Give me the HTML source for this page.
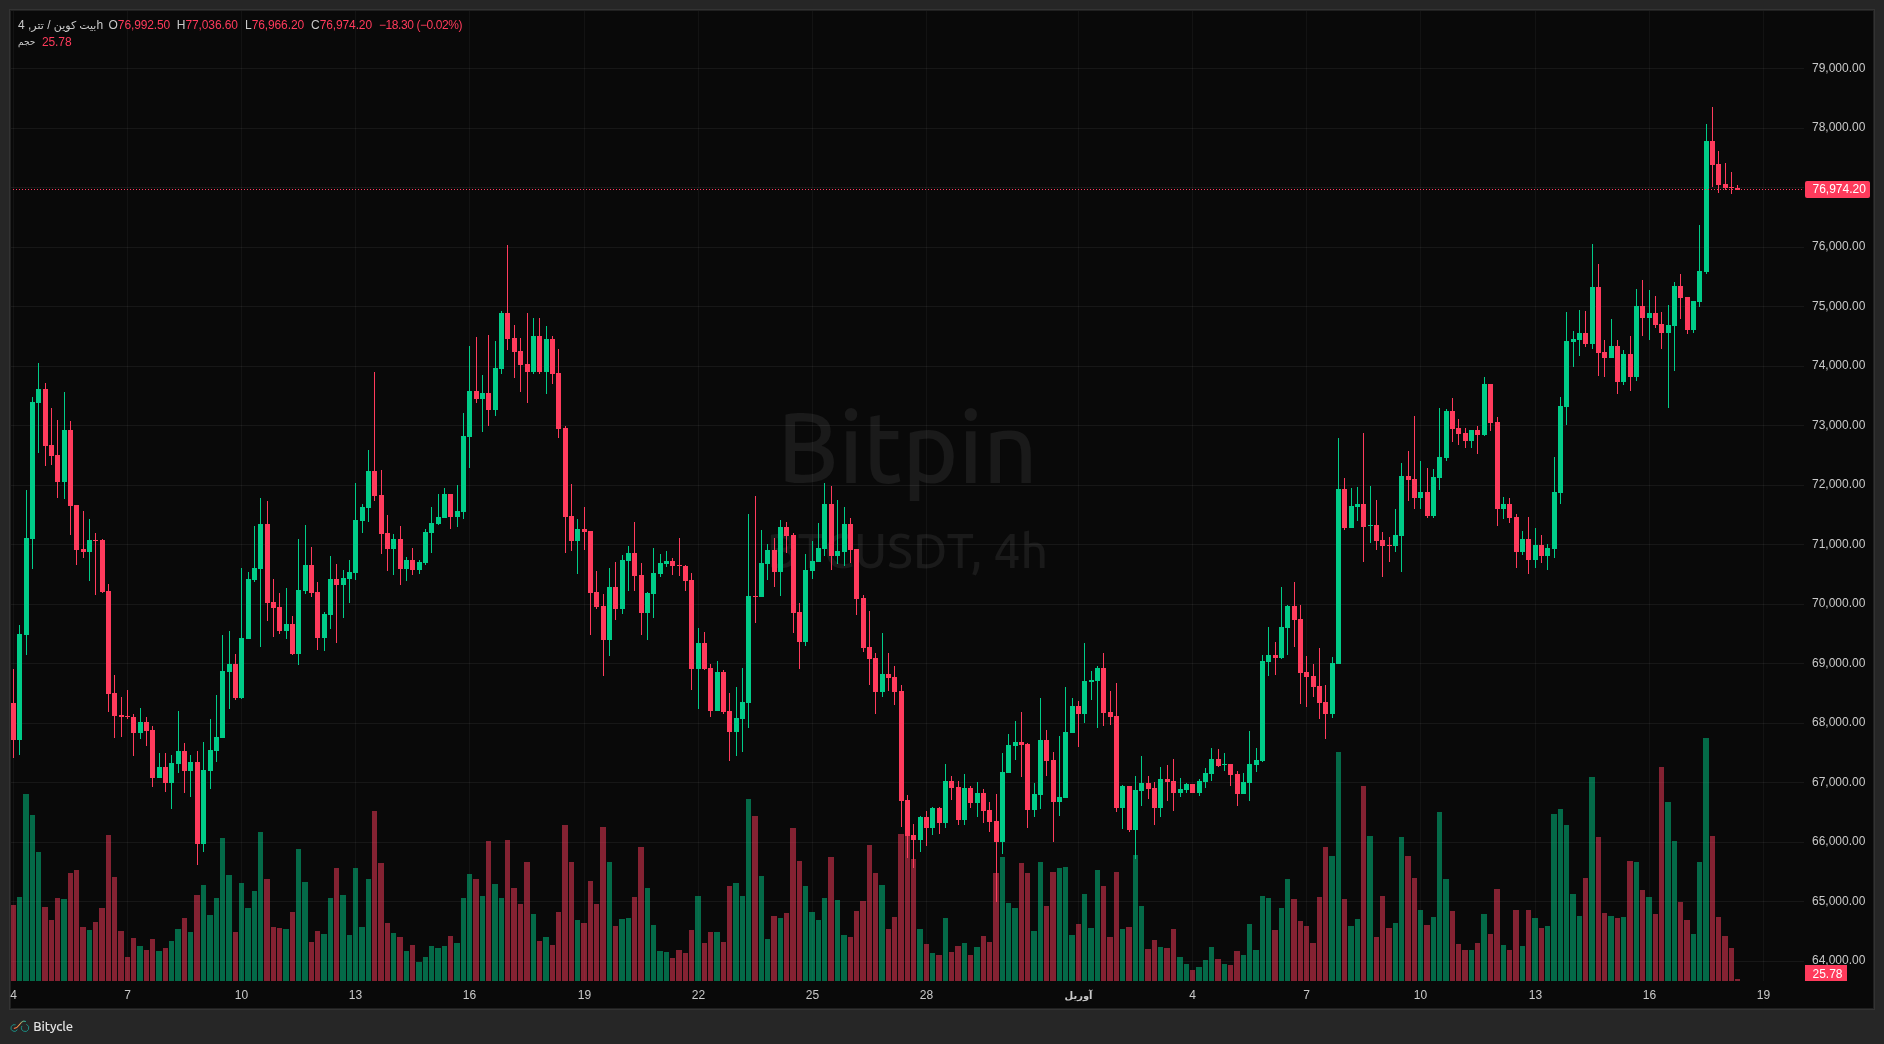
<!DOCTYPE html>
<html lang="en"><head><meta charset="utf-8"><title>Bitpin BTCUSDT 4h</title>
<style>
html,body{margin:0;padding:0;background:#262626;}
#txt{position:absolute;left:0;top:0;width:1884px;height:1044px;transform:translateZ(0);will-change:transform;}
body{width:1884px;height:1044px;position:relative;overflow:hidden;font-family:"Liberation Sans","DejaVu Sans",sans-serif;font-size:12px;color:#c9c9c9;}
#panel{position:absolute;left:9px;top:9px;width:1864px;height:999px;border:1px solid #333;background:#090909;box-shadow:inset 0 0 0 1px #202020;}
svg{position:absolute;left:0;top:0;}
.wm{font-family:Ubuntu,"Liberation Sans","DejaVu Sans",sans-serif;position:absolute;left:11px;width:1793px;text-align:center;color:#1a1a1a;white-space:nowrap;}
#wm1{top:386px;font-size:100px;line-height:120px;font-weight:460;transform:scaleX(0.951);}
#wm2{top:520px;font-size:49px;line-height:60px;font-weight:470;transform:scaleX(0.977);}
.pl{position:absolute;left:1812px;width:60px;height:14px;line-height:14px;white-space:nowrap;}
.tl{position:absolute;top:988px;width:60px;height:14px;line-height:14px;text-align:center;white-space:nowrap;}
.tl b{font-weight:bold;font-size:10px;}
.ar{font-size:11px;}
.lg{position:absolute;white-space:nowrap;height:14px;line-height:14px;}
.red{color:#ff3b5c;letter-spacing:-0.12px;}
.tag{position:absolute;background:#ff3b5c;color:#fff;border-radius:2px;white-space:nowrap;}
#brand{font-family:Ubuntu,"Liberation Sans","DejaVu Sans",sans-serif;position:absolute;left:33.2px;top:1017px;font-size:13px;line-height:18px;font-weight:520;color:#e2e2e2;letter-spacing:-0.15px;}
</style></head><body>
<div id="panel"></div>
<div class="wm" id="wm1">Bitpin</div>
<div class="wm" id="wm2">BTCUSDT, 4h</div>
<svg width="1884" height="1044" viewBox="0 0 1884 1044" shape-rendering="crispEdges">
<rect x="11" y="68" width="1793" height="1" fill="rgba(255,255,255,0.057)"/>
<rect x="11" y="128" width="1793" height="1" fill="rgba(255,255,255,0.057)"/>
<rect x="11" y="187" width="1793" height="1" fill="rgba(255,255,255,0.057)"/>
<rect x="11" y="247" width="1793" height="1" fill="rgba(255,255,255,0.057)"/>
<rect x="11" y="306" width="1793" height="1" fill="rgba(255,255,255,0.057)"/>
<rect x="11" y="366" width="1793" height="1" fill="rgba(255,255,255,0.057)"/>
<rect x="11" y="425" width="1793" height="1" fill="rgba(255,255,255,0.057)"/>
<rect x="11" y="485" width="1793" height="1" fill="rgba(255,255,255,0.057)"/>
<rect x="11" y="544" width="1793" height="1" fill="rgba(255,255,255,0.057)"/>
<rect x="11" y="604" width="1793" height="1" fill="rgba(255,255,255,0.057)"/>
<rect x="11" y="663" width="1793" height="1" fill="rgba(255,255,255,0.057)"/>
<rect x="11" y="723" width="1793" height="1" fill="rgba(255,255,255,0.057)"/>
<rect x="11" y="782" width="1793" height="1" fill="rgba(255,255,255,0.057)"/>
<rect x="11" y="842" width="1793" height="1" fill="rgba(255,255,255,0.057)"/>
<rect x="11" y="901" width="1793" height="1" fill="rgba(255,255,255,0.057)"/>
<rect x="11" y="961" width="1793" height="1" fill="rgba(255,255,255,0.057)"/>
<rect x="13" y="11" width="1" height="970" fill="rgba(255,255,255,0.043)"/>
<rect x="127" y="11" width="1" height="970" fill="rgba(255,255,255,0.043)"/>
<rect x="241" y="11" width="1" height="970" fill="rgba(255,255,255,0.043)"/>
<rect x="355" y="11" width="1" height="970" fill="rgba(255,255,255,0.043)"/>
<rect x="469" y="11" width="1" height="970" fill="rgba(255,255,255,0.043)"/>
<rect x="584" y="11" width="1" height="970" fill="rgba(255,255,255,0.043)"/>
<rect x="698" y="11" width="1" height="970" fill="rgba(255,255,255,0.043)"/>
<rect x="812" y="11" width="1" height="970" fill="rgba(255,255,255,0.043)"/>
<rect x="926" y="11" width="1" height="970" fill="rgba(255,255,255,0.043)"/>
<rect x="1078" y="11" width="1" height="970" fill="rgba(255,255,255,0.043)"/>
<rect x="1192" y="11" width="1" height="970" fill="rgba(255,255,255,0.043)"/>
<rect x="1306" y="11" width="1" height="970" fill="rgba(255,255,255,0.043)"/>
<rect x="1420" y="11" width="1" height="970" fill="rgba(255,255,255,0.043)"/>
<rect x="1535" y="11" width="1" height="970" fill="rgba(255,255,255,0.043)"/>
<rect x="1649" y="11" width="1" height="970" fill="rgba(255,255,255,0.043)"/>
<rect x="1763" y="11" width="1" height="970" fill="rgba(255,255,255,0.043)"/>
<path d="M17 897h5V981h-5zM23 794h6V981h-6zM30 815h5V981h-5zM36 852h5V981h-5zM61 899h6V981h-6zM87 930h5V981h-5zM137 946h6V981h-6zM156 951h6V981h-6zM169 941h5V981h-5zM175 929h6V981h-6zM188 932h5V981h-5zM201 885h5V981h-5zM207 915h6V981h-6zM214 898h5V981h-5zM220 838h5V981h-5zM226 875h6V981h-6zM239 883h5V981h-5zM245 908h6V981h-6zM252 891h5V981h-5zM258 832h5V981h-5zM283 929h6V981h-6zM296 849h5V981h-5zM302 882h6V981h-6zM321 934h6V981h-6zM328 898h5V981h-5zM340 895h6V981h-6zM347 935h5V981h-5zM353 868h5V981h-5zM359 927h6V981h-6zM366 879h5V981h-5zM391 933h5V981h-5zM404 951h5V981h-5zM416 962h6V981h-6zM423 957h5V981h-5zM429 946h5V981h-5zM435 948h6V981h-6zM442 946h5V981h-5zM454 943h6V981h-6zM461 898h5V981h-5zM467 874h5V981h-5zM480 896h5V981h-5zM492 884h6V981h-6zM499 898h5V981h-5zM531 914h5V981h-5zM543 937h6V981h-6zM575 920h5V981h-5zM607 862h5V981h-5zM619 919h6V981h-6zM626 918h5V981h-5zM645 888h5V981h-5zM651 925h5V981h-5zM657 951h6V981h-6zM664 952h5V981h-5zM695 896h6V981h-6zM714 932h6V981h-6zM733 883h6V981h-6zM740 896h5V981h-5zM746 799h5V981h-5zM759 876h5V981h-5zM765 939h5V981h-5zM778 918h5V981h-5zM803 886h5V981h-5zM809 912h6V981h-6zM816 920h5V981h-5zM822 898h5V981h-5zM835 900h5V981h-5zM841 935h6V981h-6zM879 885h6V981h-6zM917 929h6V981h-6zM930 953h5V981h-5zM943 918h5V981h-5zM962 943h5V981h-5zM974 947h6V981h-6zM1000 857h5V981h-5zM1006 903h5V981h-5zM1012 908h6V981h-6zM1031 931h6V981h-6zM1038 862h5V981h-5zM1057 868h5V981h-5zM1063 867h5V981h-5zM1069 935h6V981h-6zM1082 894h5V981h-5zM1088 928h6V981h-6zM1095 870h5V981h-5zM1120 929h5V981h-5zM1133 855h5V981h-5zM1139 906h5V981h-5zM1158 947h5V981h-5zM1177 957h6V981h-6zM1184 964h5V981h-5zM1196 967h6V981h-6zM1203 960h5V981h-5zM1209 947h5V981h-5zM1222 964h5V981h-5zM1241 955h5V981h-5zM1247 924h5V981h-5zM1253 950h6V981h-6zM1260 896h5V981h-5zM1266 898h5V981h-5zM1279 908h5V981h-5zM1285 879h5V981h-5zM1329 856h6V981h-6zM1336 752h5V981h-5zM1348 926h6V981h-6zM1355 919h5V981h-5zM1367 836h6V981h-6zM1393 923h5V981h-5zM1399 837h5V981h-5zM1418 910h5V981h-5zM1431 917h5V981h-5zM1437 812h5V981h-5zM1443 879h6V981h-6zM1469 950h5V981h-5zM1481 914h6V981h-6zM1501 945h5V981h-5zM1520 946h5V981h-5zM1532 918h6V981h-6zM1545 926h5V981h-5zM1551 814h6V981h-6zM1558 809h5V981h-5zM1564 825h5V981h-5zM1570 894h6V981h-6zM1577 916h5V981h-5zM1589 777h6V981h-6zM1608 916h6V981h-6zM1621 917h5V981h-5zM1634 862h5V981h-5zM1646 897h6V981h-6zM1665 802h6V981h-6zM1672 841h5V981h-5zM1691 934h5V981h-5zM1697 862h5V981h-5zM1703 738h6V981h-6z" fill="rgba(0,204,136,0.5)"/>
<path d="M11 905h5V981h-5zM42 907h6V981h-6zM49 920h5V981h-5zM55 898h5V981h-5zM68 873h5V981h-5zM74 870h5V981h-5zM80 927h6V981h-6zM93 922h5V981h-5zM99 908h6V981h-6zM106 835h5V981h-5zM112 877h5V981h-5zM118 931h6V981h-6zM125 957h5V981h-5zM131 938h5V981h-5zM144 950h5V981h-5zM150 939h5V981h-5zM163 948h5V981h-5zM182 918h5V981h-5zM194 895h6V981h-6zM233 932h5V981h-5zM264 879h6V981h-6zM271 927h5V981h-5zM277 928h5V981h-5zM290 912h5V981h-5zM309 942h5V981h-5zM315 931h5V981h-5zM334 868h5V981h-5zM372 811h5V981h-5zM378 863h6V981h-6zM385 923h5V981h-5zM397 937h6V981h-6zM410 945h5V981h-5zM448 936h5V981h-5zM473 879h6V981h-6zM486 841h5V981h-5zM505 840h5V981h-5zM511 888h6V981h-6zM518 904h5V981h-5zM524 862h6V981h-6zM537 941h5V981h-5zM550 945h5V981h-5zM556 912h5V981h-5zM562 825h6V981h-6zM569 862h5V981h-5zM581 923h6V981h-6zM588 881h5V981h-5zM594 904h5V981h-5zM600 827h6V981h-6zM613 926h5V981h-5zM632 897h5V981h-5zM638 847h6V981h-6zM670 958h5V981h-5zM676 950h6V981h-6zM683 953h5V981h-5zM689 930h5V981h-5zM702 943h5V981h-5zM708 932h5V981h-5zM721 942h5V981h-5zM727 886h5V981h-5zM752 816h6V981h-6zM771 916h6V981h-6zM784 913h5V981h-5zM790 828h6V981h-6zM797 861h5V981h-5zM828 857h6V981h-6zM848 937h5V981h-5zM854 911h5V981h-5zM860 901h6V981h-6zM867 845h5V981h-5zM873 873h5V981h-5zM886 929h5V981h-5zM892 917h5V981h-5zM898 834h6V981h-6zM905 815h5V981h-5zM911 859h5V981h-5zM924 944h5V981h-5zM936 955h6V981h-6zM949 952h5V981h-5zM955 946h6V981h-6zM968 955h5V981h-5zM981 936h5V981h-5zM987 942h5V981h-5zM993 873h6V981h-6zM1019 863h5V981h-5zM1025 873h5V981h-5zM1044 906h5V981h-5zM1050 872h6V981h-6zM1076 924h5V981h-5zM1101 886h5V981h-5zM1107 937h6V981h-6zM1114 872h5V981h-5zM1126 927h6V981h-6zM1145 949h6V981h-6zM1152 940h5V981h-5zM1164 948h6V981h-6zM1171 929h5V981h-5zM1190 970h5V981h-5zM1215 959h6V981h-6zM1228 965h5V981h-5zM1234 951h6V981h-6zM1272 930h6V981h-6zM1291 899h6V981h-6zM1298 921h5V981h-5zM1304 926h5V981h-5zM1310 943h6V981h-6zM1317 897h5V981h-5zM1323 847h5V981h-5zM1342 899h5V981h-5zM1361 786h5V981h-5zM1374 937h5V981h-5zM1380 896h5V981h-5zM1386 928h6V981h-6zM1405 856h6V981h-6zM1412 878h5V981h-5zM1424 925h6V981h-6zM1450 911h5V981h-5zM1456 944h5V981h-5zM1462 950h6V981h-6zM1475 943h5V981h-5zM1488 934h5V981h-5zM1494 889h6V981h-6zM1507 950h5V981h-5zM1513 910h6V981h-6zM1526 910h5V981h-5zM1539 928h5V981h-5zM1583 878h5V981h-5zM1596 837h5V981h-5zM1602 913h5V981h-5zM1615 918h5V981h-5zM1627 861h6V981h-6zM1640 890h5V981h-5zM1653 914h5V981h-5zM1659 767h5V981h-5zM1678 902h5V981h-5zM1684 920h6V981h-6zM1710 836h5V981h-5zM1716 917h5V981h-5zM1722 936h6V981h-6zM1729 948h5V981h-5zM1735 979h5V981h-5z" fill="rgba(255,59,92,0.5)"/>
<path d="M19 625h1V755h-1zM17 634h5V740h-5zM26 490h1V655h-1zM24 538h5V635h-5zM32 397h1V569h-1zM30 402h5V539h-5zM38 363h1V453h-1zM36 389h5V403h-5zM64 392h1V499h-1zM62 430h5V482h-5zM89 519h1V581h-1zM87 540h5V552h-5zM140 708h1V739h-1zM138 722h5V733h-5zM159 753h1V778h-1zM157 767h5V778h-5zM171 755h1V809h-1zM169 763h5V783h-5zM178 711h1V773h-1zM176 751h5V764h-5zM190 755h1V797h-1zM188 762h5V771h-5zM203 742h1V852h-1zM201 770h5V844h-5zM210 719h1V789h-1zM208 750h5V771h-5zM216 695h1V762h-1zM214 737h5V751h-5zM222 635h1V738h-1zM220 671h5V738h-5zM229 631h1V709h-1zM227 664h5V672h-5zM241 568h1V699h-1zM239 638h5V698h-5zM248 572h1V639h-1zM246 579h5V639h-5zM254 526h1V582h-1zM252 568h5V580h-5zM260 498h1V647h-1zM258 524h5V569h-5zM286 588h1V639h-1zM284 624h5V631h-5zM298 539h1V665h-1zM296 590h5V654h-5zM305 525h1V594h-1zM303 565h5V591h-5zM324 612h1V651h-1zM322 614h5V638h-5zM330 556h1V629h-1zM328 579h5V615h-5zM343 570h1V618h-1zM341 578h5V585h-5zM349 560h1V603h-1zM347 572h5V579h-5zM355 483h1V580h-1zM353 520h5V573h-5zM362 504h1V533h-1zM360 507h5V521h-5zM368 450h1V522h-1zM366 471h5V508h-5zM393 534h1V575h-1zM391 539h5V549h-5zM406 557h1V581h-1zM404 560h5V569h-5zM419 560h1V574h-1zM417 562h5V570h-5zM425 529h1V565h-1zM423 532h5V563h-5zM431 507h1V553h-1zM429 523h5V533h-5zM438 494h1V525h-1zM436 517h5V524h-5zM444 488h1V518h-1zM442 494h5V518h-5zM457 485h1V527h-1zM455 511h5V517h-5zM463 413h1V519h-1zM461 436h5V512h-5zM469 346h1V468h-1zM467 391h5V437h-5zM482 375h1V432h-1zM480 393h5V399h-5zM495 341h1V416h-1zM493 368h5V410h-5zM501 311h1V374h-1zM499 313h5V369h-5zM533 318h1V374h-1zM531 336h5V372h-5zM546 326h1V394h-1zM544 339h5V372h-5zM577 519h1V574h-1zM575 529h5V541h-5zM609 568h1V656h-1zM607 587h5V640h-5zM622 555h1V614h-1zM620 560h5V609h-5zM628 546h1V591h-1zM626 553h5V561h-5zM647 592h1V640h-1zM645 593h5V613h-5zM653 548h1V618h-1zM651 573h5V594h-5zM660 554h1V577h-1zM658 563h5V574h-5zM666 551h1V567h-1zM664 561h5V564h-5zM698 628h1V709h-1zM696 643h5V669h-5zM717 661h1V711h-1zM715 672h5V711h-5zM736 687h1V756h-1zM734 718h5V732h-5zM742 668h1V752h-1zM740 702h5V719h-5zM748 514h1V728h-1zM746 596h5V703h-5zM761 530h1V597h-1zM759 563h5V597h-5zM767 544h1V580h-1zM765 550h5V564h-5zM780 520h1V596h-1zM778 527h5V572h-5zM805 554h1V646h-1zM803 570h5V642h-5zM812 541h1V579h-1zM810 561h5V571h-5zM818 523h1V562h-1zM816 548h5V562h-5zM824 483h1V556h-1zM822 504h5V549h-5zM837 500h1V564h-1zM835 551h5V556h-5zM844 507h1V566h-1zM842 524h5V552h-5zM882 633h1V697h-1zM880 674h5V692h-5zM920 816h1V852h-1zM918 817h5V840h-5zM932 807h1V835h-1zM930 808h5V828h-5zM945 764h1V828h-1zM943 781h5V823h-5zM964 774h1V825h-1zM962 788h5V820h-5zM977 782h1V817h-1zM975 793h5V803h-5zM1002 753h1V854h-1zM1000 772h5V842h-5zM1008 734h1V773h-1zM1006 745h5V773h-5zM1015 721h1V760h-1zM1013 742h5V746h-5zM1034 783h1V817h-1zM1032 794h5V810h-5zM1040 698h1V809h-1zM1038 740h5V795h-5zM1059 736h1V816h-1zM1057 797h5V802h-5zM1065 687h1V798h-1zM1063 732h5V798h-5zM1072 698h1V733h-1zM1070 706h5V733h-5zM1084 643h1V723h-1zM1082 681h5V714h-5zM1091 671h1V700h-1zM1089 680h5V682h-5zM1097 666h1V728h-1zM1095 668h5V681h-5zM1122 785h1V829h-1zM1120 786h5V808h-5zM1135 776h1V859h-1zM1133 790h5V830h-5zM1141 756h1V806h-1zM1139 783h5V791h-5zM1160 767h1V817h-1zM1158 779h5V808h-5zM1180 778h1V797h-1zM1178 789h5V793h-5zM1186 783h1V793h-1zM1184 784h5V790h-5zM1199 779h1V796h-1zM1197 781h5V793h-5zM1205 768h1V788h-1zM1203 773h5V782h-5zM1211 748h1V781h-1zM1209 759h5V774h-5zM1224 753h1V771h-1zM1222 764h5V765h-5zM1243 773h1V794h-1zM1241 782h5V794h-5zM1249 731h1V801h-1zM1247 764h5V783h-5zM1256 748h1V772h-1zM1254 760h5V765h-5zM1262 655h1V762h-1zM1260 661h5V761h-5zM1268 627h1V676h-1zM1266 655h5V662h-5zM1281 587h1V659h-1zM1279 627h5V658h-5zM1287 605h1V655h-1zM1285 606h5V628h-5zM1332 657h1V718h-1zM1330 663h5V714h-5zM1338 438h1V664h-1zM1336 489h5V664h-5zM1351 488h1V528h-1zM1349 506h5V528h-5zM1357 487h1V521h-1zM1355 504h5V507h-5zM1370 486h1V543h-1zM1368 525h5V526h-5zM1395 509h1V552h-1zM1393 535h5V546h-5zM1401 463h1V572h-1zM1399 476h5V536h-5zM1420 461h1V509h-1zM1418 492h5V498h-5zM1433 469h1V518h-1zM1431 477h5V516h-5zM1439 408h1V490h-1zM1437 457h5V478h-5zM1446 409h1V461h-1zM1444 411h5V458h-5zM1471 430h1V448h-1zM1469 430h5V441h-5zM1484 377h1V436h-1zM1482 384h5V435h-5zM1503 497h1V519h-1zM1501 504h5V509h-5zM1522 531h1V555h-1zM1520 539h5V552h-5zM1535 528h1V568h-1zM1533 545h5V560h-5zM1547 544h1V570h-1zM1545 548h5V556h-5zM1554 457h1V558h-1zM1552 492h5V549h-5zM1560 397h1V504h-1zM1558 406h5V493h-5zM1566 312h1V425h-1zM1564 341h5V407h-5zM1573 331h1V367h-1zM1571 339h5V342h-5zM1579 310h1V356h-1zM1577 333h5V340h-5zM1592 244h1V349h-1zM1590 287h5V344h-5zM1611 319h1V358h-1zM1609 346h5V358h-5zM1623 350h1V385h-1zM1621 354h5V382h-5zM1636 289h1V381h-1zM1634 306h5V377h-5zM1649 290h1V340h-1zM1647 313h5V318h-5zM1668 305h1V408h-1zM1666 325h5V333h-5zM1674 282h1V371h-1zM1672 286h5V326h-5zM1693 301h1V333h-1zM1691 301h5V330h-5zM1699 225h1V307h-1zM1697 271h5V302h-5zM1706 124h1V274h-1zM1704 141h5V272h-5z" fill="#00cc88"/>
<path d="M13 669h1V758h-1zM11 703h5V740h-5zM45 383h1V466h-1zM43 389h5V446h-5zM51 408h1V465h-1zM49 445h5V456h-5zM57 420h1V498h-1zM55 455h5V482h-5zM70 421h1V535h-1zM68 430h5V506h-5zM76 505h1V565h-1zM74 505h5V550h-5zM83 511h1V558h-1zM81 549h5V552h-5zM95 533h1V595h-1zM93 540h5V541h-5zM102 539h1V593h-1zM100 540h5V592h-5zM108 584h1V712h-1zM106 591h5V694h-5zM114 675h1V738h-1zM112 693h5V716h-5zM121 697h1V737h-1zM119 715h5V717h-5zM127 690h1V719h-1zM125 716h5V717h-5zM133 714h1V756h-1zM131 717h5V733h-5zM146 717h1V746h-1zM144 722h5V731h-5zM152 726h1V787h-1zM150 730h5V778h-5zM165 753h1V792h-1zM163 767h5V783h-5zM184 743h1V793h-1zM182 751h5V771h-5zM197 751h1V865h-1zM195 762h5V844h-5zM235 654h1V700h-1zM233 664h5V698h-5zM267 501h1V621h-1zM265 524h5V603h-5zM273 579h1V637h-1zM271 602h5V608h-5zM279 593h1V634h-1zM277 607h5V631h-5zM292 616h1V655h-1zM290 624h5V654h-5zM311 547h1V597h-1zM309 565h5V593h-5zM317 582h1V650h-1zM315 592h5V638h-5zM336 564h1V643h-1zM334 579h5V585h-5zM374 372h1V501h-1zM372 471h5V496h-5zM381 470h1V554h-1zM379 495h5V534h-5zM387 515h1V571h-1zM385 533h5V549h-5zM400 526h1V585h-1zM398 539h5V569h-5zM412 548h1V575h-1zM410 560h5V570h-5zM450 494h1V529h-1zM448 494h5V517h-5zM476 337h1V403h-1zM474 391h5V399h-5zM488 335h1V426h-1zM486 393h5V410h-5zM507 245h1V350h-1zM505 313h5V339h-5zM514 325h1V378h-1zM512 338h5V352h-5zM520 338h1V392h-1zM518 351h5V365h-5zM527 313h1V403h-1zM525 364h5V372h-5zM539 318h1V374h-1zM537 336h5V372h-5zM552 336h1V384h-1zM550 339h5V374h-5zM558 349h1V438h-1zM556 373h5V429h-5zM565 426h1V553h-1zM563 428h5V517h-5zM571 484h1V551h-1zM569 516h5V541h-5zM584 507h1V550h-1zM582 529h5V532h-5zM590 531h1V635h-1zM588 531h5V593h-5zM596 571h1V609h-1zM594 592h5V607h-5zM603 594h1V676h-1zM601 606h5V640h-5zM615 562h1V620h-1zM613 587h5V609h-5zM634 522h1V591h-1zM632 553h5V576h-5zM641 563h1V635h-1zM639 575h5V613h-5zM672 558h1V575h-1zM670 561h5V566h-5zM679 538h1V576h-1zM677 565h5V566h-5zM685 565h1V591h-1zM683 566h5V581h-5zM691 573h1V690h-1zM689 580h5V669h-5zM704 632h1V670h-1zM702 643h5V669h-5zM710 664h1V717h-1zM708 668h5V711h-5zM723 670h1V714h-1zM721 672h5V712h-5zM729 693h1V761h-1zM727 711h5V732h-5zM755 496h1V623h-1zM753 596h5V597h-5zM774 538h1V587h-1zM772 550h5V572h-5zM786 522h1V553h-1zM784 527h5V536h-5zM793 533h1V633h-1zM791 535h5V613h-5zM799 603h1V669h-1zM797 612h5V642h-5zM831 486h1V570h-1zM829 504h5V556h-5zM850 518h1V563h-1zM848 524h5V550h-5zM856 549h1V615h-1zM854 549h5V599h-5zM863 595h1V652h-1zM861 598h5V648h-5zM869 611h1V685h-1zM867 647h5V659h-5zM875 653h1V714h-1zM873 658h5V692h-5zM888 653h1V691h-1zM886 674h5V678h-5zM894 666h1V705h-1zM892 677h5V692h-5zM901 685h1V827h-1zM899 691h5V801h-5zM907 795h1V858h-1zM905 800h5V836h-5zM913 824h1V868h-1zM911 835h5V840h-5zM926 811h1V846h-1zM924 817h5V828h-5zM939 807h1V834h-1zM937 808h5V823h-5zM951 776h1V800h-1zM949 781h5V788h-5zM958 781h1V825h-1zM956 787h5V820h-5zM970 786h1V808h-1zM968 788h5V803h-5zM983 789h1V823h-1zM981 793h5V811h-5zM989 802h1V832h-1zM987 810h5V822h-5zM996 794h1V902h-1zM994 821h5V842h-5zM1021 712h1V777h-1zM1019 742h5V745h-5zM1027 743h1V828h-1zM1025 744h5V810h-5zM1046 730h1V776h-1zM1044 740h5V761h-5zM1053 752h1V842h-1zM1051 760h5V802h-5zM1078 701h1V747h-1zM1076 706h5V714h-5zM1103 653h1V726h-1zM1101 668h5V713h-5zM1110 691h1V725h-1zM1108 712h5V717h-5zM1116 683h1V812h-1zM1114 716h5V808h-5zM1129 786h1V832h-1zM1127 786h5V830h-5zM1148 776h1V799h-1zM1146 783h5V789h-5zM1154 782h1V825h-1zM1152 788h5V808h-5zM1167 765h1V801h-1zM1165 779h5V782h-5zM1173 759h1V811h-1zM1171 781h5V793h-5zM1192 784h1V793h-1zM1190 784h5V793h-5zM1218 749h1V767h-1zM1216 759h5V766h-5zM1230 764h1V786h-1zM1228 764h5V775h-5zM1237 771h1V806h-1zM1235 774h5V794h-5zM1275 642h1V675h-1zM1273 655h5V658h-5zM1294 582h1V647h-1zM1292 606h5V620h-5zM1300 605h1V704h-1zM1298 619h5V673h-5zM1306 656h1V707h-1zM1304 672h5V677h-5zM1313 664h1V697h-1zM1311 676h5V687h-5zM1319 648h1V719h-1zM1317 686h5V703h-5zM1325 685h1V739h-1zM1323 702h5V714h-5zM1344 478h1V530h-1zM1342 489h5V528h-5zM1363 433h1V562h-1zM1361 504h5V527h-5zM1376 500h1V550h-1zM1374 525h5V541h-5zM1382 532h1V577h-1zM1380 540h5V546h-5zM1389 537h1V562h-1zM1387 545h5V546h-5zM1408 451h1V501h-1zM1406 476h5V480h-5zM1414 416h1V509h-1zM1412 479h5V498h-5zM1427 468h1V518h-1zM1425 492h5V516h-5zM1452 398h1V442h-1zM1450 411h5V429h-5zM1458 419h1V445h-1zM1456 428h5V434h-5zM1465 428h1V448h-1zM1463 433h5V441h-5zM1477 426h1V454h-1zM1475 430h5V435h-5zM1490 384h1V431h-1zM1488 384h5V423h-5zM1497 417h1V526h-1zM1495 422h5V509h-5zM1509 498h1V523h-1zM1507 504h5V518h-5zM1516 514h1V568h-1zM1514 517h5V552h-5zM1528 517h1V574h-1zM1526 539h5V560h-5zM1541 535h1V563h-1zM1539 545h5V556h-5zM1585 311h1V347h-1zM1583 333h5V344h-5zM1598 264h1V376h-1zM1596 287h5V353h-5zM1604 340h1V377h-1zM1602 352h5V358h-5zM1617 340h1V394h-1zM1615 346h5V382h-5zM1630 336h1V391h-1zM1628 354h5V377h-5zM1642 280h1V336h-1zM1640 306h5V318h-5zM1655 296h1V328h-1zM1653 313h5V325h-5zM1661 312h1V349h-1zM1659 324h5V333h-5zM1680 274h1V319h-1zM1678 286h5V298h-5zM1687 297h1V334h-1zM1685 297h5V330h-5zM1712 107h1V187h-1zM1710 141h5V165h-5zM1718 151h1V193h-1zM1716 164h5V185h-5zM1725 163h1V190h-1zM1723 184h5V188h-5zM1731 172h1V194h-1zM1729 187h5V188h-5zM1737 185h1V190h-1zM1735 188h5V190h-5z" fill="#ff3b5c"/>
<path d="M13 189h1v1h-1zM16 189h1v1h-1zM19 189h1v1h-1zM22 189h1v1h-1zM25 189h1v1h-1zM28 189h1v1h-1zM31 189h1v1h-1zM34 189h1v1h-1zM37 189h1v1h-1zM40 189h1v1h-1zM43 189h1v1h-1zM46 189h1v1h-1zM49 189h1v1h-1zM52 189h1v1h-1zM55 189h1v1h-1zM58 189h1v1h-1zM61 189h1v1h-1zM64 189h1v1h-1zM67 189h1v1h-1zM70 189h1v1h-1zM73 189h1v1h-1zM76 189h1v1h-1zM79 189h1v1h-1zM82 189h1v1h-1zM85 189h1v1h-1zM88 189h1v1h-1zM91 189h1v1h-1zM94 189h1v1h-1zM97 189h1v1h-1zM100 189h1v1h-1zM103 189h1v1h-1zM106 189h1v1h-1zM109 189h1v1h-1zM112 189h1v1h-1zM115 189h1v1h-1zM118 189h1v1h-1zM121 189h1v1h-1zM124 189h1v1h-1zM127 189h1v1h-1zM130 189h1v1h-1zM133 189h1v1h-1zM136 189h1v1h-1zM139 189h1v1h-1zM142 189h1v1h-1zM145 189h1v1h-1zM148 189h1v1h-1zM151 189h1v1h-1zM154 189h1v1h-1zM157 189h1v1h-1zM160 189h1v1h-1zM163 189h1v1h-1zM166 189h1v1h-1zM169 189h1v1h-1zM172 189h1v1h-1zM175 189h1v1h-1zM178 189h1v1h-1zM181 189h1v1h-1zM184 189h1v1h-1zM187 189h1v1h-1zM190 189h1v1h-1zM193 189h1v1h-1zM196 189h1v1h-1zM199 189h1v1h-1zM202 189h1v1h-1zM205 189h1v1h-1zM208 189h1v1h-1zM211 189h1v1h-1zM214 189h1v1h-1zM217 189h1v1h-1zM220 189h1v1h-1zM223 189h1v1h-1zM226 189h1v1h-1zM229 189h1v1h-1zM232 189h1v1h-1zM235 189h1v1h-1zM238 189h1v1h-1zM241 189h1v1h-1zM244 189h1v1h-1zM247 189h1v1h-1zM250 189h1v1h-1zM253 189h1v1h-1zM256 189h1v1h-1zM259 189h1v1h-1zM262 189h1v1h-1zM265 189h1v1h-1zM268 189h1v1h-1zM271 189h1v1h-1zM274 189h1v1h-1zM277 189h1v1h-1zM280 189h1v1h-1zM283 189h1v1h-1zM286 189h1v1h-1zM289 189h1v1h-1zM292 189h1v1h-1zM295 189h1v1h-1zM298 189h1v1h-1zM301 189h1v1h-1zM304 189h1v1h-1zM307 189h1v1h-1zM310 189h1v1h-1zM313 189h1v1h-1zM316 189h1v1h-1zM319 189h1v1h-1zM322 189h1v1h-1zM325 189h1v1h-1zM328 189h1v1h-1zM331 189h1v1h-1zM334 189h1v1h-1zM337 189h1v1h-1zM340 189h1v1h-1zM343 189h1v1h-1zM346 189h1v1h-1zM349 189h1v1h-1zM352 189h1v1h-1zM355 189h1v1h-1zM358 189h1v1h-1zM361 189h1v1h-1zM364 189h1v1h-1zM367 189h1v1h-1zM370 189h1v1h-1zM373 189h1v1h-1zM376 189h1v1h-1zM379 189h1v1h-1zM382 189h1v1h-1zM385 189h1v1h-1zM388 189h1v1h-1zM391 189h1v1h-1zM394 189h1v1h-1zM397 189h1v1h-1zM400 189h1v1h-1zM403 189h1v1h-1zM406 189h1v1h-1zM409 189h1v1h-1zM412 189h1v1h-1zM415 189h1v1h-1zM418 189h1v1h-1zM421 189h1v1h-1zM424 189h1v1h-1zM427 189h1v1h-1zM430 189h1v1h-1zM433 189h1v1h-1zM436 189h1v1h-1zM439 189h1v1h-1zM442 189h1v1h-1zM445 189h1v1h-1zM448 189h1v1h-1zM451 189h1v1h-1zM454 189h1v1h-1zM457 189h1v1h-1zM460 189h1v1h-1zM463 189h1v1h-1zM466 189h1v1h-1zM469 189h1v1h-1zM472 189h1v1h-1zM475 189h1v1h-1zM478 189h1v1h-1zM481 189h1v1h-1zM484 189h1v1h-1zM487 189h1v1h-1zM490 189h1v1h-1zM493 189h1v1h-1zM496 189h1v1h-1zM499 189h1v1h-1zM502 189h1v1h-1zM505 189h1v1h-1zM508 189h1v1h-1zM511 189h1v1h-1zM514 189h1v1h-1zM517 189h1v1h-1zM520 189h1v1h-1zM523 189h1v1h-1zM526 189h1v1h-1zM529 189h1v1h-1zM532 189h1v1h-1zM535 189h1v1h-1zM538 189h1v1h-1zM541 189h1v1h-1zM544 189h1v1h-1zM547 189h1v1h-1zM550 189h1v1h-1zM553 189h1v1h-1zM556 189h1v1h-1zM559 189h1v1h-1zM562 189h1v1h-1zM565 189h1v1h-1zM568 189h1v1h-1zM571 189h1v1h-1zM574 189h1v1h-1zM577 189h1v1h-1zM580 189h1v1h-1zM583 189h1v1h-1zM586 189h1v1h-1zM589 189h1v1h-1zM592 189h1v1h-1zM595 189h1v1h-1zM598 189h1v1h-1zM601 189h1v1h-1zM604 189h1v1h-1zM607 189h1v1h-1zM610 189h1v1h-1zM613 189h1v1h-1zM616 189h1v1h-1zM619 189h1v1h-1zM622 189h1v1h-1zM625 189h1v1h-1zM628 189h1v1h-1zM631 189h1v1h-1zM634 189h1v1h-1zM637 189h1v1h-1zM640 189h1v1h-1zM643 189h1v1h-1zM646 189h1v1h-1zM649 189h1v1h-1zM652 189h1v1h-1zM655 189h1v1h-1zM658 189h1v1h-1zM661 189h1v1h-1zM664 189h1v1h-1zM667 189h1v1h-1zM670 189h1v1h-1zM673 189h1v1h-1zM676 189h1v1h-1zM679 189h1v1h-1zM682 189h1v1h-1zM685 189h1v1h-1zM688 189h1v1h-1zM691 189h1v1h-1zM694 189h1v1h-1zM697 189h1v1h-1zM700 189h1v1h-1zM703 189h1v1h-1zM706 189h1v1h-1zM709 189h1v1h-1zM712 189h1v1h-1zM715 189h1v1h-1zM718 189h1v1h-1zM721 189h1v1h-1zM724 189h1v1h-1zM727 189h1v1h-1zM730 189h1v1h-1zM733 189h1v1h-1zM736 189h1v1h-1zM739 189h1v1h-1zM742 189h1v1h-1zM745 189h1v1h-1zM748 189h1v1h-1zM751 189h1v1h-1zM754 189h1v1h-1zM757 189h1v1h-1zM760 189h1v1h-1zM763 189h1v1h-1zM766 189h1v1h-1zM769 189h1v1h-1zM772 189h1v1h-1zM775 189h1v1h-1zM778 189h1v1h-1zM781 189h1v1h-1zM784 189h1v1h-1zM787 189h1v1h-1zM790 189h1v1h-1zM793 189h1v1h-1zM796 189h1v1h-1zM799 189h1v1h-1zM802 189h1v1h-1zM805 189h1v1h-1zM808 189h1v1h-1zM811 189h1v1h-1zM814 189h1v1h-1zM817 189h1v1h-1zM820 189h1v1h-1zM823 189h1v1h-1zM826 189h1v1h-1zM829 189h1v1h-1zM832 189h1v1h-1zM835 189h1v1h-1zM838 189h1v1h-1zM841 189h1v1h-1zM844 189h1v1h-1zM847 189h1v1h-1zM850 189h1v1h-1zM853 189h1v1h-1zM856 189h1v1h-1zM859 189h1v1h-1zM862 189h1v1h-1zM865 189h1v1h-1zM868 189h1v1h-1zM871 189h1v1h-1zM874 189h1v1h-1zM877 189h1v1h-1zM880 189h1v1h-1zM883 189h1v1h-1zM886 189h1v1h-1zM889 189h1v1h-1zM892 189h1v1h-1zM895 189h1v1h-1zM898 189h1v1h-1zM901 189h1v1h-1zM904 189h1v1h-1zM907 189h1v1h-1zM910 189h1v1h-1zM913 189h1v1h-1zM916 189h1v1h-1zM919 189h1v1h-1zM922 189h1v1h-1zM925 189h1v1h-1zM928 189h1v1h-1zM931 189h1v1h-1zM934 189h1v1h-1zM937 189h1v1h-1zM940 189h1v1h-1zM943 189h1v1h-1zM946 189h1v1h-1zM949 189h1v1h-1zM952 189h1v1h-1zM955 189h1v1h-1zM958 189h1v1h-1zM961 189h1v1h-1zM964 189h1v1h-1zM967 189h1v1h-1zM970 189h1v1h-1zM973 189h1v1h-1zM976 189h1v1h-1zM979 189h1v1h-1zM982 189h1v1h-1zM985 189h1v1h-1zM988 189h1v1h-1zM991 189h1v1h-1zM994 189h1v1h-1zM997 189h1v1h-1zM1000 189h1v1h-1zM1003 189h1v1h-1zM1006 189h1v1h-1zM1009 189h1v1h-1zM1012 189h1v1h-1zM1015 189h1v1h-1zM1018 189h1v1h-1zM1021 189h1v1h-1zM1024 189h1v1h-1zM1027 189h1v1h-1zM1030 189h1v1h-1zM1033 189h1v1h-1zM1036 189h1v1h-1zM1039 189h1v1h-1zM1042 189h1v1h-1zM1045 189h1v1h-1zM1048 189h1v1h-1zM1051 189h1v1h-1zM1054 189h1v1h-1zM1057 189h1v1h-1zM1060 189h1v1h-1zM1063 189h1v1h-1zM1066 189h1v1h-1zM1069 189h1v1h-1zM1072 189h1v1h-1zM1075 189h1v1h-1zM1078 189h1v1h-1zM1081 189h1v1h-1zM1084 189h1v1h-1zM1087 189h1v1h-1zM1090 189h1v1h-1zM1093 189h1v1h-1zM1096 189h1v1h-1zM1099 189h1v1h-1zM1102 189h1v1h-1zM1105 189h1v1h-1zM1108 189h1v1h-1zM1111 189h1v1h-1zM1114 189h1v1h-1zM1117 189h1v1h-1zM1120 189h1v1h-1zM1123 189h1v1h-1zM1126 189h1v1h-1zM1129 189h1v1h-1zM1132 189h1v1h-1zM1135 189h1v1h-1zM1138 189h1v1h-1zM1141 189h1v1h-1zM1144 189h1v1h-1zM1147 189h1v1h-1zM1150 189h1v1h-1zM1153 189h1v1h-1zM1156 189h1v1h-1zM1159 189h1v1h-1zM1162 189h1v1h-1zM1165 189h1v1h-1zM1168 189h1v1h-1zM1171 189h1v1h-1zM1174 189h1v1h-1zM1177 189h1v1h-1zM1180 189h1v1h-1zM1183 189h1v1h-1zM1186 189h1v1h-1zM1189 189h1v1h-1zM1192 189h1v1h-1zM1195 189h1v1h-1zM1198 189h1v1h-1zM1201 189h1v1h-1zM1204 189h1v1h-1zM1207 189h1v1h-1zM1210 189h1v1h-1zM1213 189h1v1h-1zM1216 189h1v1h-1zM1219 189h1v1h-1zM1222 189h1v1h-1zM1225 189h1v1h-1zM1228 189h1v1h-1zM1231 189h1v1h-1zM1234 189h1v1h-1zM1237 189h1v1h-1zM1240 189h1v1h-1zM1243 189h1v1h-1zM1246 189h1v1h-1zM1249 189h1v1h-1zM1252 189h1v1h-1zM1255 189h1v1h-1zM1258 189h1v1h-1zM1261 189h1v1h-1zM1264 189h1v1h-1zM1267 189h1v1h-1zM1270 189h1v1h-1zM1273 189h1v1h-1zM1276 189h1v1h-1zM1279 189h1v1h-1zM1282 189h1v1h-1zM1285 189h1v1h-1zM1288 189h1v1h-1zM1291 189h1v1h-1zM1294 189h1v1h-1zM1297 189h1v1h-1zM1300 189h1v1h-1zM1303 189h1v1h-1zM1306 189h1v1h-1zM1309 189h1v1h-1zM1312 189h1v1h-1zM1315 189h1v1h-1zM1318 189h1v1h-1zM1321 189h1v1h-1zM1324 189h1v1h-1zM1327 189h1v1h-1zM1330 189h1v1h-1zM1333 189h1v1h-1zM1336 189h1v1h-1zM1339 189h1v1h-1zM1342 189h1v1h-1zM1345 189h1v1h-1zM1348 189h1v1h-1zM1351 189h1v1h-1zM1354 189h1v1h-1zM1357 189h1v1h-1zM1360 189h1v1h-1zM1363 189h1v1h-1zM1366 189h1v1h-1zM1369 189h1v1h-1zM1372 189h1v1h-1zM1375 189h1v1h-1zM1378 189h1v1h-1zM1381 189h1v1h-1zM1384 189h1v1h-1zM1387 189h1v1h-1zM1390 189h1v1h-1zM1393 189h1v1h-1zM1396 189h1v1h-1zM1399 189h1v1h-1zM1402 189h1v1h-1zM1405 189h1v1h-1zM1408 189h1v1h-1zM1411 189h1v1h-1zM1414 189h1v1h-1zM1417 189h1v1h-1zM1420 189h1v1h-1zM1423 189h1v1h-1zM1426 189h1v1h-1zM1429 189h1v1h-1zM1432 189h1v1h-1zM1435 189h1v1h-1zM1438 189h1v1h-1zM1441 189h1v1h-1zM1444 189h1v1h-1zM1447 189h1v1h-1zM1450 189h1v1h-1zM1453 189h1v1h-1zM1456 189h1v1h-1zM1459 189h1v1h-1zM1462 189h1v1h-1zM1465 189h1v1h-1zM1468 189h1v1h-1zM1471 189h1v1h-1zM1474 189h1v1h-1zM1477 189h1v1h-1zM1480 189h1v1h-1zM1483 189h1v1h-1zM1486 189h1v1h-1zM1489 189h1v1h-1zM1492 189h1v1h-1zM1495 189h1v1h-1zM1498 189h1v1h-1zM1501 189h1v1h-1zM1504 189h1v1h-1zM1507 189h1v1h-1zM1510 189h1v1h-1zM1513 189h1v1h-1zM1516 189h1v1h-1zM1519 189h1v1h-1zM1522 189h1v1h-1zM1525 189h1v1h-1zM1528 189h1v1h-1zM1531 189h1v1h-1zM1534 189h1v1h-1zM1537 189h1v1h-1zM1540 189h1v1h-1zM1543 189h1v1h-1zM1546 189h1v1h-1zM1549 189h1v1h-1zM1552 189h1v1h-1zM1555 189h1v1h-1zM1558 189h1v1h-1zM1561 189h1v1h-1zM1564 189h1v1h-1zM1567 189h1v1h-1zM1570 189h1v1h-1zM1573 189h1v1h-1zM1576 189h1v1h-1zM1579 189h1v1h-1zM1582 189h1v1h-1zM1585 189h1v1h-1zM1588 189h1v1h-1zM1591 189h1v1h-1zM1594 189h1v1h-1zM1597 189h1v1h-1zM1600 189h1v1h-1zM1603 189h1v1h-1zM1606 189h1v1h-1zM1609 189h1v1h-1zM1612 189h1v1h-1zM1615 189h1v1h-1zM1618 189h1v1h-1zM1621 189h1v1h-1zM1624 189h1v1h-1zM1627 189h1v1h-1zM1630 189h1v1h-1zM1633 189h1v1h-1zM1636 189h1v1h-1zM1639 189h1v1h-1zM1642 189h1v1h-1zM1645 189h1v1h-1zM1648 189h1v1h-1zM1651 189h1v1h-1zM1654 189h1v1h-1zM1657 189h1v1h-1zM1660 189h1v1h-1zM1663 189h1v1h-1zM1666 189h1v1h-1zM1669 189h1v1h-1zM1672 189h1v1h-1zM1675 189h1v1h-1zM1678 189h1v1h-1zM1681 189h1v1h-1zM1684 189h1v1h-1zM1687 189h1v1h-1zM1690 189h1v1h-1zM1693 189h1v1h-1zM1696 189h1v1h-1zM1699 189h1v1h-1zM1702 189h1v1h-1zM1705 189h1v1h-1zM1708 189h1v1h-1zM1711 189h1v1h-1zM1714 189h1v1h-1zM1717 189h1v1h-1zM1720 189h1v1h-1zM1723 189h1v1h-1zM1726 189h1v1h-1zM1729 189h1v1h-1zM1732 189h1v1h-1zM1735 189h1v1h-1zM1738 189h1v1h-1zM1741 189h1v1h-1zM1744 189h1v1h-1zM1747 189h1v1h-1zM1750 189h1v1h-1zM1753 189h1v1h-1zM1756 189h1v1h-1zM1759 189h1v1h-1zM1762 189h1v1h-1zM1765 189h1v1h-1zM1768 189h1v1h-1zM1771 189h1v1h-1zM1774 189h1v1h-1zM1777 189h1v1h-1zM1780 189h1v1h-1zM1783 189h1v1h-1zM1786 189h1v1h-1zM1789 189h1v1h-1zM1792 189h1v1h-1zM1795 189h1v1h-1zM1798 189h1v1h-1zM1801 189h1v1h-1z" fill="#ff3b5c"/>
</svg>
<div id="txt">
<div class="lg" style="left:18px;top:18px"><span class="ar">بیت کوین</span> / <span class="ar">تتر</span>, 4h</div>
<div class="lg" style="left:108.5px;top:18px">O<span class="red">76,992.50</span></div>
<div class="lg" style="left:176.8px;top:18px">H<span class="red">77,036.60</span></div>
<div class="lg" style="left:245px;top:18px">L<span class="red">76,966.20</span></div>
<div class="lg" style="left:311px;top:18px">C<span class="red">76,974.20</span></div>
<div class="lg red" style="left:379px;top:18px;letter-spacing:-0.42px">−18.30 (−0.02%)</div>
<div class="lg" style="left:18px;top:35px;font-size:9px">حجم</div>
<div class="lg red" style="left:42px;top:35px">25.78</div>
<div class="pl" style="top:61px">79,000.00</div><div class="pl" style="top:120px">78,000.00</div><div class="pl" style="top:239px">76,000.00</div><div class="pl" style="top:299px">75,000.00</div><div class="pl" style="top:358px">74,000.00</div><div class="pl" style="top:418px">73,000.00</div><div class="pl" style="top:477px">72,000.00</div><div class="pl" style="top:537px">71,000.00</div><div class="pl" style="top:596px">70,000.00</div><div class="pl" style="top:656px">69,000.00</div><div class="pl" style="top:715px">68,000.00</div><div class="pl" style="top:775px">67,000.00</div><div class="pl" style="top:834px">66,000.00</div><div class="pl" style="top:894px">65,000.00</div><div class="pl" style="top:953px">64,000.00</div>
<div class="tag" style="left:1805px;top:181px;width:65px;height:17px;line-height:16px;"><span style="position:absolute;left:7.5px">76,974.20</span></div>
<div class="tag" style="left:1805px;top:965px;width:42px;height:16px;line-height:19px;border-radius:0"><span style="position:absolute;left:7.5px">25.78</span></div>
<div class="tl" style="left:-16.5px">4</div><div class="tl" style="left:97.5px">7</div><div class="tl" style="left:211.5px">10</div><div class="tl" style="left:325.5px">13</div><div class="tl" style="left:439.5px">16</div><div class="tl" style="left:554.5px">19</div><div class="tl" style="left:668.5px">22</div><div class="tl" style="left:782.5px">25</div><div class="tl" style="left:896.5px">28</div><div class="tl" style="left:1048.5px"><b>آوریل</b></div><div class="tl" style="left:1162.5px">4</div><div class="tl" style="left:1276.5px">7</div><div class="tl" style="left:1390.5px">10</div><div class="tl" style="left:1505.5px">13</div><div class="tl" style="left:1619.5px">16</div><div class="tl" style="left:1733.5px">19</div>
<svg style="left:10px;top:1018px" width="22" height="18" viewBox="0 0 22 18" shape-rendering="geometricPrecision">
<defs><linearGradient id="lg1" gradientUnits="userSpaceOnUse" x1="4" y1="10.5" x2="15.5" y2="3"><stop offset="0" stop-color="#f4683a"/><stop offset="0.5" stop-color="#f0a050"/><stop offset="0.75" stop-color="#8fb07a"/><stop offset="1" stop-color="#1ba397"/></linearGradient></defs>
<path d="M5.26 6.67A3.45 3.45 0 1 0 7.2 11.98" fill="none" stroke="#1ba397" stroke-width="0.9" stroke-linecap="round" opacity="0.9"/>
<path d="M16.66 6.45A3.7 3.7 0 1 1 11.75 8.24" fill="none" stroke="#1ba397" stroke-width="0.9" stroke-linecap="round" opacity="0.9"/>
<path d="M4.3 10.4C7 9.9 8.2 8.6 9.4 6.8S11.6 3.6 13.1 3.2c.9-.2 1.7-.1 2.4.3" fill="none" stroke="url(#lg1)" stroke-width="1.1" stroke-linecap="round"/>
</svg>
<div id="brand">Bitycle</div>
</div>
</body></html>
